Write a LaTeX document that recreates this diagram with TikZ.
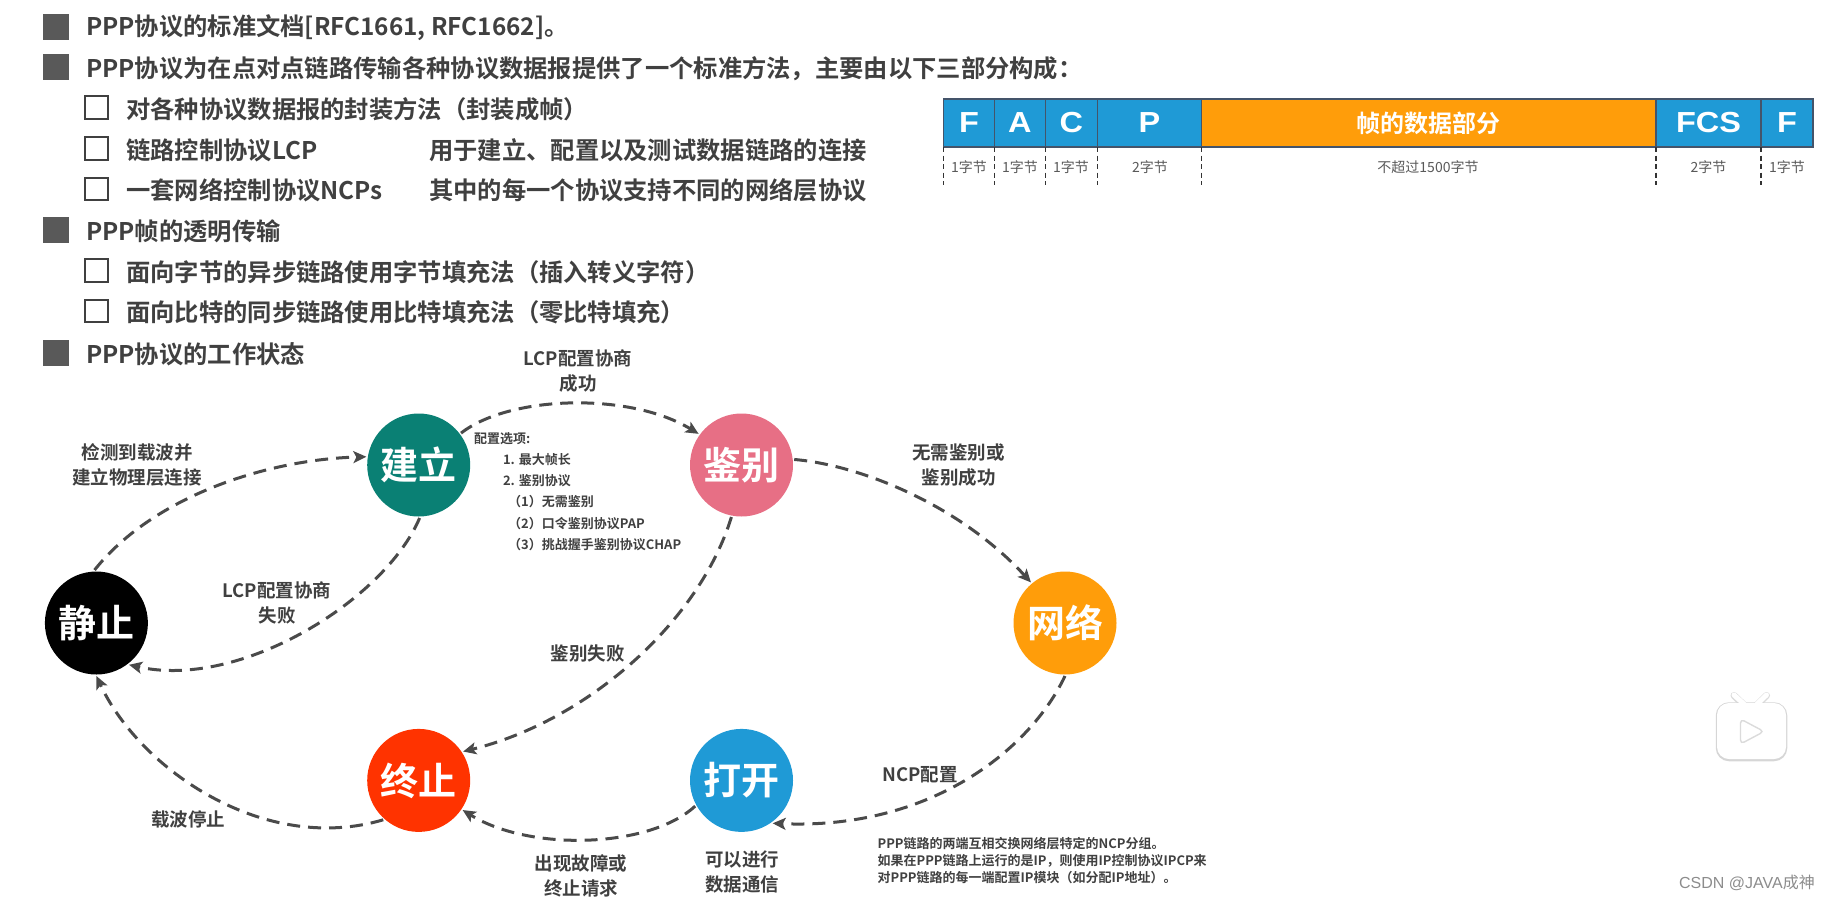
\documentclass[tikz,border=0pt]{standalone}
\usepackage{fontspec}
\setmainfont{Noto Sans CJK SC}[BoldFont={Noto Sans CJK SC Bold}]
\newfontfamily\wmfont{Liberation Sans}
\newfontfamily\wmcjk{Noto Sans CJK SC}
\newfontfamily\frmfont{Liberation Sans}[FakeStretch=1.12]
\usetikzlibrary{arrows.meta}
\definecolor{txt}{HTML}{404040}
\definecolor{bul}{HTML}{595959}
\definecolor{lnk}{HTML}{4A4A4A}
\definecolor{cteal}{HTML}{0A8074}
\definecolor{cpink}{HTML}{E76F85}
\definecolor{corange}{HTML}{FF9D0A}
\definecolor{cblue}{HTML}{1F9AD6}
\definecolor{cred}{HTML}{FF3300}
\definecolor{fedge}{HTML}{44546A}
\newcommand{\lowr}[1]{\raisebox{-1.5pt}{#1}}
\tikzset{
  bigsq/.style={fill=bul,draw=none,minimum width=26pt,minimum height=26pt,inner sep=0,anchor=center},
  smallsq/.style={draw=txt,line width=2.4pt,fill=white,minimum width=22.5pt,minimum height=22.5pt,inner sep=0,anchor=center},
  head/.style={font=\fontsize{24.3}{28}\selectfont\bfseries,text=txt,anchor=west,inner sep=0},
  state/.style={circle,minimum size=103pt,inner sep=0,outer sep=1.5pt,text=white,font=\fontsize{38}{40}\selectfont\bfseries},
  trans/.style={draw=lnk,line width=3pt,dash pattern=on 13pt off 8pt,-{Stealth[length=13pt,width=12pt,inset=3pt]}},
  lab/.style={font=\fontsize{18.5}{25}\selectfont\bfseries,text=txt,align=center,inner sep=0},
  small/.style={font=\fontsize{13}{16}\selectfont\bfseries,text=txt,anchor=west,inner sep=0},
  fld/.style={draw=fedge,line width=1.2pt,minimum height=48pt,inner sep=0,outer sep=0,anchor=north west,text=white,font=\frmfont\fontsize{29}{30}\selectfont\bfseries},
  blue/.style={fill=cblue},
  bytes/.style={font=\fontsize{14}{16}\selectfont,text=bul,inner sep=0},
  sep/.style={draw=black!80,line width=1.2pt,dash pattern=on 5pt off 3.5pt},
}
\begin{document}
\begin{tikzpicture}[x=1pt,y=-1pt]
\useasboundingbox (0,0) rectangle (1825,900);
% bullet list
\node[bigsq] (b1) at (56,26.5) {};
\node[head] (t1) at (86,28) {PPP协议的标准文档[RFC1661, RFC1662]。};
\node[bigsq] (b2) at (56,67) {};
\node[head] (t2) at (86,68.5) {PPP协议为在点对点链路传输各种协议数据报提供了一个标准方法，主要由以下三部分构成：};
\node[smallsq] (s1) at (96.5,107.5) {};
\node[head] (t3) at (126,109) {对各种协议数据报的封装方法（封装成帧）};
\node[smallsq] (s2) at (96.5,148.5) {};
\node[head] (t4) at (126,150) {链路控制协议LCP};
\node[head] (t4b) at (429,150) {用于建立、配置以及测试数据链路的连接};
\node[smallsq] (s3) at (96.5,189) {};
\node[head] (t5) at (126,190.5) {一套网络控制协议NCPs};
\node[head] (t5b) at (429,190.5) {其中的每一个协议支持不同的网络层协议};
\node[bigsq] (b3) at (56,230) {};
\node[head] (t6) at (86,231.5) {PPP帧的透明传输};
\node[smallsq] (s4) at (96.5,270.5) {};
\node[head] (t7) at (126,272) {面向字节的异步链路使用字节填充法（插入转义字符）};
\node[smallsq] (s5) at (96.5,311) {};
\node[head] (t8) at (126,312.5) {面向比特的同步链路使用比特填充法（零比特填充）};
\node[bigsq] (b4) at (56,353) {};
\node[head] (t9) at (86,354.5) {PPP协议的工作状态};
% frame
\node[fld,blue,minimum width=50.8pt] (fF) at (943.7,99) {F};
\node[fld,blue,minimum width=50.8pt] (fA) at (994.5,99) {A};
\node[fld,blue,minimum width=51.9pt] (fC) at (1045.3,99) {C};
\node[fld,blue,minimum width=104.5pt] (fP) at (1097.2,99) {P};
\node[fld,fill=corange,minimum width=454.3pt,font=\fontsize{24}{28}\selectfont\bfseries] (fD) at (1201.7,99) {帧的数据部分};
\node[fld,blue,minimum width=105pt] (fS) at (1656,99) {FCS};
\node[fld,blue,minimum width=52pt] (fE) at (1761,99) {F};
\draw[fedge,line width=2.2pt] (fF.south west) -- (fE.south east);
\foreach \n in {fF,fA,fC,fP,fD,fS,fE}
  \draw[sep] (\n.south west) -- ++(0,38);
\node[bytes] (bF) at (969,167) {1字节};
\node[bytes] (bA) at (1020,167) {1字节};
\node[bytes] (bC) at (1071,167) {1字节};
\node[bytes] (bP) at (1150,167) {2字节};
\node[bytes] (bD) at (1428,167) {不超过1500字节};
\node[bytes] (bS) at (1708.5,167) {2字节};
\node[bytes] (bE) at (1787,167) {1字节};
% states
\node[state,fill=black] (jz) at (96.4,623) {\lowr{静止}};
\node[state,fill=cteal] (jl) at (418.7,465) {\lowr{建立}};
\node[state,fill=cpink] (jb) at (741.5,465) {\lowr{鉴别}};
\node[state,fill=corange] (wl) at (1065,623) {\lowr{网络}};
\node[state,fill=cblue] (dk) at (741.5,780.4) {\lowr{打开}};
\node[state,fill=cred] (zz) at (418.7,780.4) {\lowr{终止}};
% transitions
\draw[trans] (jz.92) .. controls (150,500) and (260,460) .. (jl.171.5);
\draw[trans] (jl.37.5) .. controls (510,395) and (630,392) .. (jb.144);
\draw[trans] (jb.6) .. controls (860,465) and (960,505) .. (wl.130.6);
\draw[trans] (wl.270) .. controls (1030,750) and (930,830) .. (dk.-54.5);
\draw[trans] (dk.209) .. controls (650,848) and (530,852) .. (zz.-34.6);
\draw[trans] (zz.228) .. controls (265,855) and (140,770) .. (jz.270);
\draw[trans] (jl.271) .. controls (385,600) and (240,690) .. (jz.-52);
\draw[trans] (jb.259) .. controls (700,620) and (590,720) .. (zz.33);
% labels
\node[lab] (l1) at (137,465) {检测到载波并\\建立物理层连接};
\node[lab] (l2) at (578,371) {LCP配置协商\\成功};
\node[lab] (l3) at (958.5,465) {无需鉴别或\\鉴别成功};
\node[lab] (l4) at (277,603) {LCP配置协商\\失败};
\node[lab] (l5) at (587.7,653.5) {鉴别失败};
\node[lab] (l6) at (920,775) {NCP配置};
\node[lab] (l7) at (188,819) {载波停止};
\node[lab] (l8) at (581,876) {出现故障或\\终止请求};
\node[lab] (l9) at (742,871.5) {可以进行\\数据通信};
% options
\node[small] (o0) at (474,438.5) {配置选项:};
\node[small] (o1) at (502.8,459.5) {1. 最大帧长};
\node[small] (o2) at (502.8,480.5) {2. 鉴别协议};
\node[small] (o3) at (508,502) {（1）无需鉴别};
\node[small] (o4) at (508,523.5) {（2）口令鉴别协议PAP};
\node[small] (o5) at (508,544.5) {（3）挑战握手鉴别协议CHAP};
% note
\node[small] (n1) at (877.4,843.5) {PPP链路的两端互相交换网络层特定的NCP分组。};
\node[small] (n2) at (877.4,861) {如果在PPP链路上运行的是IP，则使用IP控制协议IPCP来};
\node[small] (n3) at (877.4,878) {对PPP链路的每一端配置IP模块（如分配IP地址）。};
% player icon
\draw[line width=7pt,line cap=round,black!14] (1734,695.5) -- (1745,706) (1766.5,695.5) -- (1756,706);
\draw[line width=2.5pt,black!16,rounded corners=12pt] (1717,703.5) rectangle (1786,760);
\fill[white,rounded corners=12pt] (1717,703) rectangle (1786,759);
\draw[line width=5pt,line cap=round,white] (1734,695) -- (1745,705) (1766.5,695) -- (1756,705);
\draw[black!14,line width=1.4pt,fill=white,rounded corners=4pt] (1740.5,719) -- (1740.5,744) -- (1764,731.5) -- cycle;
% watermark
\node[inner sep=0,anchor=east,text=black!45,font=\fontsize{16}{18}\selectfont] (wm) at (1815,882.7) {\wmfont CSDN @JAVA\wmcjk 成神};
\end{tikzpicture}
\end{document}
